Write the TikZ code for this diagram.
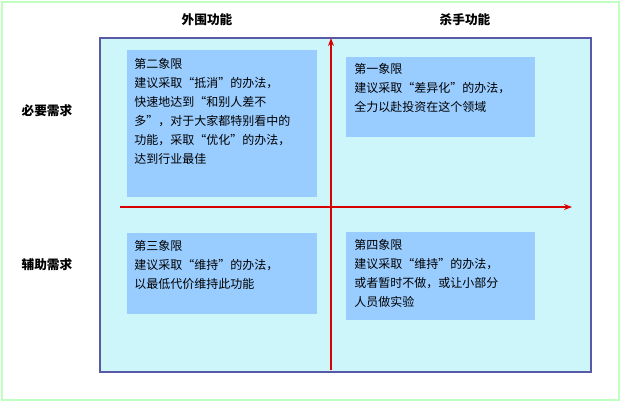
\documentclass[tikz,border=0pt]{standalone}
\usepackage{fontspec}
\newfontfamily\cjk{Noto Sans CJK SC}
\usetikzlibrary{arrows.meta}
\begin{document}
\begin{tikzpicture}[x=0.75pt,y=-0.75pt,
  qbox/.style={draw=none,fill=qfill,anchor=north west,align=left,inner sep=0pt,font=\cjk\fontsize{9}{14.2}\selectfont},
  hdr/.style={font=\cjk\bfseries\fontsize{9.5}{12}\selectfont},
  axis/.style={draw=red!85!black,line width=0.9pt,-{Stealth[length=6pt,width=4.5pt]}}]
\definecolor{qfill}{HTML}{99CCFF}
\definecolor{bgc}{HTML}{CCF6FA}
\useasboundingbox (0,0) rectangle (622,403);
\draw[draw=green!25!white,line width=0.8pt,fill=white] (2,2) rectangle (619,400);
\draw[draw=gray!70!blue,fill=bgc,line width=0.8pt] (100,38) rectangle (591,372);
\fill[qfill] (127,50) rectangle (317,197);
\fill[qfill] (346,57) rectangle (535,137);
\fill[qfill] (127,233) rectangle (317,314);
\fill[qfill] (346,232) rectangle (535,320);
\node[qbox,fill=none] (q2) at (134,58) {第二象限\\建议采取“抵消”的办法，\\快速地达到“和别人差不\\多”，对于大家都特别看中的\\功能，采取“优化”的办法，\\达到行业最佳};
\node[qbox,fill=none] (q1) at (354,63) {第一象限\\建议采取“差异化”的办法，\\全力以赴投资在这个领域};
\node[qbox,fill=none] (q3) at (134,240) {第三象限\\建议采取“维持”的办法，\\以最低代价维持此功能};
\node[qbox,fill=none] (q4) at (354,239) {第四象限\\建议采取“维持”的办法，\\或者暂时不做，或让小部分\\人员做实验};
\coordinate (hl) at (120,207);
\coordinate (hr) at (572,207);
\coordinate (vb) at (331,370);
\coordinate (vt) at (331,38);
\draw[axis] (hl) -- (hr);
\draw[axis] (vb) -- (vt);
\node[hdr] (h1) at (207,20) {外围功能};
\node[hdr] (h2) at (465,20) {杀手功能};
\node[hdr] (r1) at (47,111) {必要需求};
\node[hdr] (r2) at (47,265) {辅助需求};
\end{tikzpicture}
\end{document}
